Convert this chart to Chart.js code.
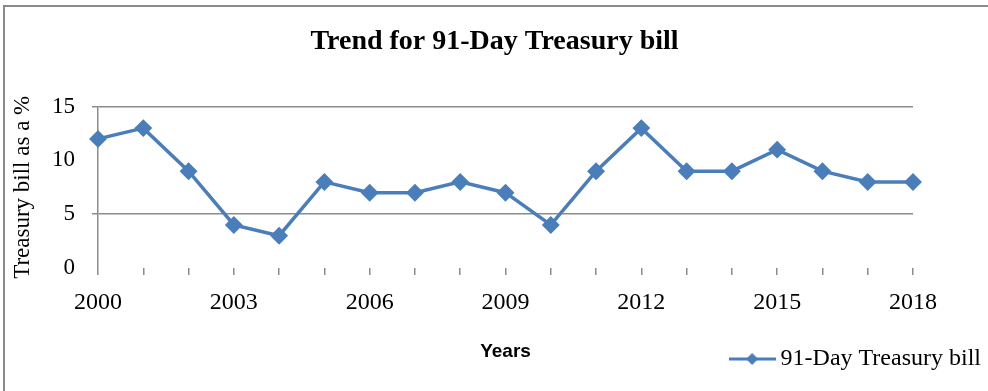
<!DOCTYPE html>
<html>
<head>
<meta charset="utf-8">
<script src="https://cdn.jsdelivr.net/npm/chart.js@4"></script>
<style>
  body { margin: 0; background: #fff; }
  #wrap { position: relative; width: 988px; height: 391px; overflow: hidden; }
  #frame { position: absolute; left: 3px; top: 5px; width: 1000px; height: 400px;
           border-left: 2px solid #8a8a8a; border-top: 2px solid #8a8a8a; box-sizing: border-box; }
  canvas { position: absolute; left: 0; top: 0; }
</style>
</head>
<body>
<div id="wrap">
  <div id="frame"></div>
  <canvas id="chart" width="988" height="391"></canvas>
</div>
<script>
// data
const years = ['2000', '2001', '2002', '2003', '2004', '2005', '2006', '2007', '2008', '2009',
               '2010', '2011', '2012', '2013', '2014', '2015', '2016', '2017', '2018'];
const billRates = [12, 13, 9, 4, 3, 8, 7, 7, 8, 7, 4, 9, 13, 9, 9, 11, 9, 8, 8];
const yTicks = [0, 5, 10, 15];

const blue = '#4a7ebb';
const gray = '#8c8c8c';
const serif = "'Liberation Serif', 'DejaVu Serif', serif";

// legend marker: short line with a diamond on it
function legendMarker() {
  const c = document.createElement('canvas');
  c.width = 47; c.height = 14;
  const g = c.getContext('2d');
  g.strokeStyle = blue; g.lineWidth = 3;
  g.beginPath(); g.moveTo(0, 7); g.lineTo(47, 7); g.stroke();
  g.fillStyle = blue;
  g.beginPath(); g.moveTo(23.5, 1); g.lineTo(29.5, 7); g.lineTo(23.5, 13); g.lineTo(17.5, 7); g.closePath(); g.fill();
  return c;
}
const marker = legendMarker();

// legend sits on the same row as the "Years" title in the original
const legendShift = {
  id: 'legendShift',
  afterLayout(chart) {
    const lg = chart.legend;
    if (!lg) return;
    const d = lg.top - 343;
    lg.top -= d; lg.bottom -= d;
    if (lg.legendHitBoxes) lg.legendHitBoxes.forEach(h => { h.top -= d; });
  }
};

new Chart(document.getElementById('chart'), {
  type: 'line',
  data: {
    labels: years,
    datasets: [{
      label: '91-Day Treasury bill',
      data: billRates,
      borderColor: blue,
      backgroundColor: blue,
      borderWidth: 3.5,
      pointStyle: 'rectRot',
      pointRadius: 6.5,
      pointHoverRadius: 6.5,
      tension: 0
    }]
  },
  options: {
    responsive: false,
    animation: false,
    layout: { padding: { left: 4, right: 3, top: 8, bottom: 0 } },
    plugins: {
      title: {
        display: true,
        text: 'Trend for 91-Day Treasury bill',
        color: '#000',
        font: { family: serif, size: 28, weight: 'bold' },
        padding: { top: 17, bottom: 48 }
      },
      legend: {
        position: 'bottom',
        align: 'end',
        maxHeight: 28,
        labels: {
          usePointStyle: true,
          pointStyle: marker,
          pointStyleWidth: 33,
          boxHeight: 14,
          padding: 4,
          color: '#000',
          font: { family: serif, size: 24 },
          generateLabels(chart) {
            const ds = chart.data.datasets[0];
            return [{ text: ds.label, pointStyle: marker, fillStyle: blue, strokeStyle: blue, lineWidth: 0, datasetIndex: 0 }];
          }
        }
      },
      tooltip: { enabled: false }
    },
    scales: {
      x: {
        afterFit: s => { s.height = 95; },
        grid: { drawOnChartArea: false, drawTicks: true, tickLength: 7, color: gray, lineWidth: 1.5 },
        border: { display: false },
        ticks: {
          autoSkip: false,
          maxRotation: 0,
          padding: 13,
          color: '#000',
          font: { family: serif, size: 24 },
          callback: (v, i) => (i % 3 === 0 ? years[i] : '')
        },
        title: {
          display: true,
          text: 'Years',
          color: '#000',
          font: { family: "'Liberation Sans', Arial, sans-serif", size: 19, weight: 'bold' },
          padding: { top: 10, bottom: 0 }
        }
      },
      y: {
        min: 0,
        max: 15,
        afterBuildTicks: s => { s.ticks = yTicks.map(v => ({ value: v })); },
        afterFit: s => { s.width = 94; },
        grid: {
          color: c => (c.tick && (c.tick.value === 5 || c.tick.value === 15)) ? gray : 'rgba(0,0,0,0)',
          tickLength: 6,
          lineWidth: 1.5
        },
        border: { display: true, color: gray, width: 1.5 },
        ticks: { padding: 17, color: '#000', font: { family: serif, size: 23 } },
        title: {
          display: true,
          text: 'Treasury bill as a %',
          color: '#000',
          font: { family: serif, size: 23 },
          padding: { top: 5, bottom: 10 }
        }
      },
      y2: {
        position: 'right',
        display: true,
        grid: { display: false },
        border: { display: false },
        ticks: { display: false },
        afterFit: s => { s.width = 72; }
      }
    }
  },
  plugins: [legendShift]
});
</script>
</body>
</html>
